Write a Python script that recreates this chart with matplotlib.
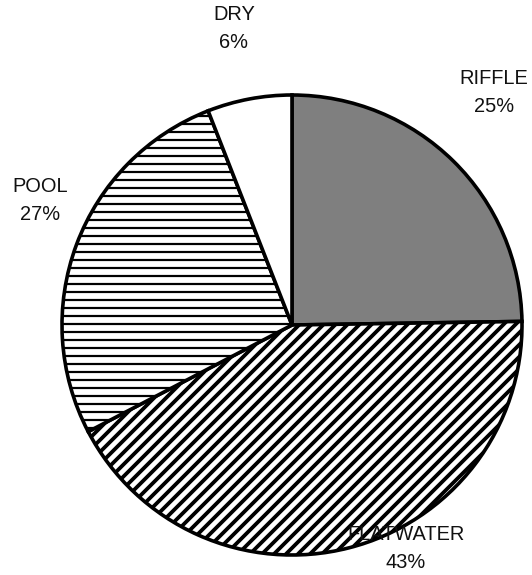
import matplotlib
matplotlib.use("Agg")
import matplotlib.pyplot as plt

plt.rcParams["font.family"] = ["Liberation Sans", "DejaVu Sans"]
plt.rcParams["hatch.linewidth"] = 1.4

# Habitat composition
categories = ["RIFFLE", "FLATWATER", "POOL", "DRY"]
percent = [25, 43, 27, 6]

faces = ["#7f7f7f", "white", "white", "white"]
hatches = [None, "////", "---", None]
hatch_colors = ["black", "black", "#4d4d4d", "black"]
hatch_widths = [1.0, 1.9, 1.1, 1.0]

W, H, DPI = 532, 575, 144
fig = plt.figure(figsize=(W / DPI, H / DPI), dpi=DPI)
ax = fig.add_axes([0, 0, 1, 1])

cx, cy, r = 292, H - 325, 230
wedges, _ = ax.pie(percent, startangle=90, counterclock=False,
                   center=(cx, cy), radius=r, colors=faces,
                   wedgeprops=dict(edgecolor="black", linewidth=1.8))
for w, h, hc, hw in zip(wedges, hatches, hatch_colors, hatch_widths):
    if h:
        w.set_hatch(h)
        w._hatch_color = matplotlib.colors.to_rgba(hc)
        if hasattr(w, "set_hatch_linewidth"):
            w.set_hatch_linewidth(hw)
        else:
            w._hatch_linewidth = hw
    w.set_edgecolor("black")

# Pixel-based coordinate frame for the whole canvas
ax.set_xlim(0, W)
ax.set_ylim(0, H)
ax.set_aspect("equal")
ax.axis("off")

# Label positions (pixel coordinates)
label_pos = {
    "RIFFLE": (494, H - 92),
    "FLATWATER": (406, H - 548),
    "POOL": (40, H - 200),
    "DRY": (234, H - 29),
}
for cat, p in zip(categories, percent):
    x, y = label_pos[cat]
    ax.text(x, y, f"{cat}\n{p}%", ha="center", va="center",
            fontsize=10, linespacing=1.6, color="#111111")

fig.savefig("out.png", dpi=DPI)
